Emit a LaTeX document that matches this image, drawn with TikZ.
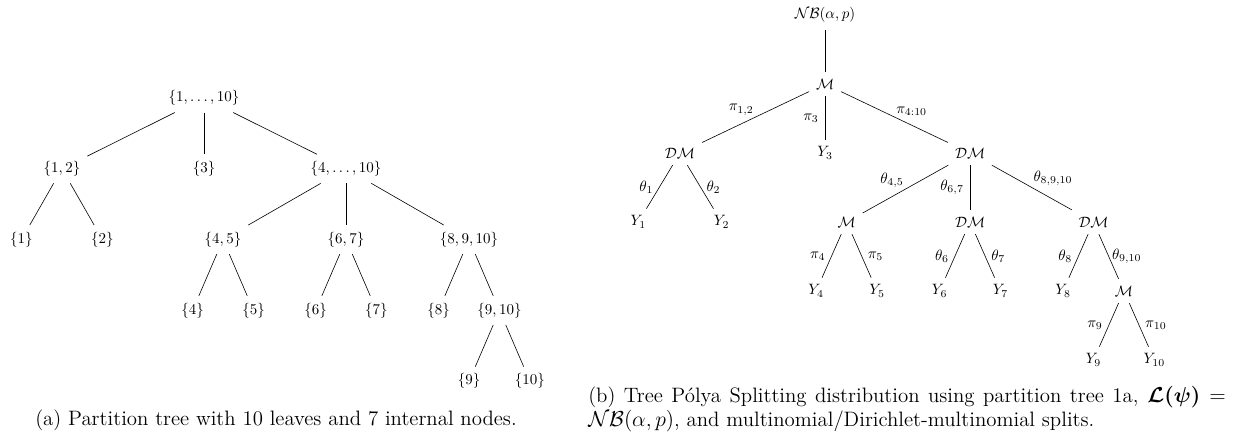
\documentclass[tikz,border=0pt]{standalone}
\usepackage{amsmath,amssymb}
\usetikzlibrary{positioning}

\begin{document}
\begin{tikzpicture}[x=0.6667pt,y=-0.6667pt,on grid,
  set/.style={inner sep=4.5pt},
  dist/.style={inner sep=4.5pt},
  lab/.style={inner sep=1pt},
  captext/.style={inner sep=0pt,font=\fontsize{13.9pt}{15.5pt}\selectfont}]
  \useasboundingbox (0,0) rectangle (1233,435);
  % (a) partition tree
  \node[set] (r) at (204,98) {$\{1,\ldots,10\}$};
  \node[set,below left=47.2pt and 94.7pt of r] (s12) {$\{1,2\}$};
  \node[set,below=47.2pt of r] (s3) {$\{3\}$};
  \node[set,below right=47.2pt and 94.7pt of r] (s410) {$\{4,\ldots,10\}$};
  \node[set,below left=47.2pt and 27pt of s12] (s1) {$\{1\}$};
  \node[set,below right=47.2pt and 27pt of s12] (s2) {$\{2\}$};
  \node[set,below left=47.2pt and 82pt of s410] (s45) {$\{4,5\}$};
  \node[set,below=47.2pt of s410] (s67) {$\{6,7\}$};
  \node[set,below right=47.2pt and 82pt of s410] (s8910) {$\{8,9,10\}$};
  \node[set,below left=47.2pt and 20.3pt of s45] (s4) {$\{4\}$};
  \node[set,below right=47.2pt and 20.3pt of s45] (s5) {$\{5\}$};
  \node[set,below left=47.2pt and 20.3pt of s67] (s6) {$\{6\}$};
  \node[set,below right=47.2pt and 20.3pt of s67] (s7) {$\{7\}$};
  \node[set,below left=47.2pt and 20.3pt of s8910] (s8) {$\{8\}$};
  \node[set,below right=47.2pt and 20.3pt of s8910] (s910) {$\{9,10\}$};
  \node[set,below left=47.2pt and 20.3pt of s910] (s9) {$\{9\}$};
  \node[set,below right=47.2pt and 20.3pt of s910] (s10) {$\{10\}$};
  \draw (r) -- (s12);
  \draw (r) -- (s3);
  \draw (r) -- (s410);
  \draw (s12) -- (s1);
  \draw (s12) -- (s2);
  \draw (s410) -- (s45);
  \draw (s410) -- (s67);
  \draw (s410) -- (s8910);
  \draw (s45) -- (s4);
  \draw (s45) -- (s5);
  \draw (s67) -- (s6);
  \draw (s67) -- (s7);
  \draw (s8910) -- (s8);
  \draw (s8910) -- (s910);
  \draw (s910) -- (s9);
  \draw (s910) -- (s10);
  \node[captext] (capa) at (276,420) {(a) Partition tree with 10 leaves and 7 internal nodes.};

  % (b) tree Polya splitting
  \node[dist] (nb) at (825,15) {$\mathcal{NB}(\alpha,p)$};
  \node[dist,below=46pt of nb] (m) {$\mathcal{M}$};
  \node[dist,below left=46pt and 96.7pt of m] (dml) {$\mathcal{DM}$};
  \node[dist,below=46pt of m] (y3) {$Y_3$};
  \node[dist,below right=46pt and 96.7pt of m] (dmr) {$\mathcal{DM}$};
  \node[dist,below left=46pt and 27.7pt of dml] (y1) {$Y_1$};
  \node[dist,below right=46pt and 27.7pt of dml] (y2) {$Y_2$};
  \node[dist,below left=46pt and 82.3pt of dmr] (m45) {$\mathcal{M}$};
  \node[dist,below=46pt of dmr] (dm67) {$\mathcal{DM}$};
  \node[dist,below right=46pt and 82.3pt of dmr] (dm8910) {$\mathcal{DM}$};
  \node[dist,below left=46pt and 20.3pt of m45] (y4) {$Y_4$};
  \node[dist,below right=46pt and 20.3pt of m45] (y5) {$Y_5$};
  \node[dist,below left=46pt and 20.3pt of dm67] (y6) {$Y_6$};
  \node[dist,below right=46pt and 20.3pt of dm67] (y7) {$Y_7$};
  \node[dist,below left=46pt and 20.3pt of dm8910] (y8) {$Y_8$};
  \node[dist,below right=46pt and 20.3pt of dm8910] (m910) {$\mathcal{M}$};
  \node[dist,below left=46pt and 20.3pt of m910] (y9) {$Y_9$};
  \node[dist,below right=46pt and 20.3pt of m910] (y10) {$Y_{10}$};
  \draw (nb) -- (m);
  \draw (m) -- (dml) node[lab,midway,above left] {$\pi_{1,2}$};
  \draw (m) -- (y3) node[lab,midway,left=3pt] {$\pi_3$};
  \draw (m) -- (dmr) node[lab,midway,above right] {$\pi_{4:10}$};
  \draw (dml) -- (y1) node[lab,midway,left=3pt] {$\theta_1$};
  \draw (dml) -- (y2) node[lab,midway,right=3pt] {$\theta_2$};
  \draw (dmr) -- (m45) node[lab,midway,above left] {$\theta_{4,5}$};
  \draw (dmr) -- (dm67) node[lab,midway,left=3pt] {$\theta_{6,7}$};
  \draw (dmr) -- (dm8910) node[lab,midway,above right] {$\theta_{8,9,10}$};
  \draw (m45) -- (y4) node[lab,midway,left=3pt] {$\pi_4$};
  \draw (m45) -- (y5) node[lab,midway,right=3pt] {$\pi_5$};
  \draw (dm67) -- (y6) node[lab,midway,left=3pt] {$\theta_6$};
  \draw (dm67) -- (y7) node[lab,midway,right=3pt] {$\theta_7$};
  \draw (dm8910) -- (y8) node[lab,midway,left=3pt] {$\theta_8$};
  \draw (dm8910) -- (m910) node[lab,midway,right=1pt] {$\theta_{9,10}$};
  \draw (m910) -- (y9) node[lab,midway,left=3pt] {$\pi_9$};
  \draw (m910) -- (y10) node[lab,midway,right=3pt] {$\pi_{10}$};
  \node[captext,text width=425pt,align=justify] (capb) at (907,409) {(b) Tree P\'olya Splitting distribution using partition tree 1a, $\boldsymbol{\mathcal{L}(\psi)} =$\linebreak $\mathcal{NB}(\alpha,p)$, and multinomial/Dirichlet-multinomial splits.};
\end{tikzpicture}
\end{document}
